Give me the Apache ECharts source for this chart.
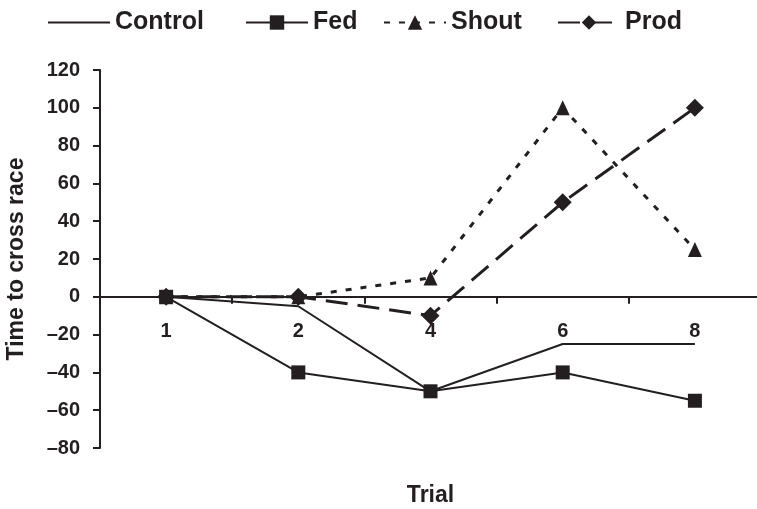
<!DOCTYPE html>
<html>
<head>
<meta charset="utf-8">
<script src="https://cdn.jsdelivr.net/npm/echarts@6/dist/echarts.min.js"></script>
<style>
  html, body { margin: 0; padding: 0; background: #fff; }
  #chart1 { width: 757px; height: 509px; }
</style>
</head>
<body>
<div id="chart1"></div>
<script>
// trials on the x axis
var trials = ['1', '2', '4', '6', '8'];
var control = [0, -5, -50, -25, -25];
var fed = [0, -40, -50, -40, -55];
var shout = [0, 0, 10, 100, 25];
var prod = [0, 0, -10, 50, 100];

var ink = '#231f20';
var font = 'Liberation Sans, Arial, sans-serif';

// one legend per item so each sits where the original puts it
function legendAt(item, x) {
    return {
        data: [item],
        left: x,
        top: 5,
        itemWidth: 62,
        itemHeight: 18,
        textStyle: { fontFamily: font, fontWeight: 'bold', fontSize: 25, color: ink }
    };
}

var myChart = echarts.init(document.getElementById('chart1'));
myChart.setOption({
    animation: false,
    backgroundColor: '#fff',
    legend: [
        legendAt({ name: 'Control', itemStyle: { opacity: 0 } }, 42),
        legendAt('Fed', 240),
        legendAt('Shout', 378),
        legendAt('Prod', 552)
    ],
    grid: { left: 100, right: -4, top: 70, bottom: 61, containLabel: false, outerBoundsMode: 'none' },
    xAxis: {
        type: 'category',
        data: trials,
        boundaryGap: true,
        name: 'Trial',
        nameLocation: 'middle',
        nameGap: 36,
        nameTextStyle: { fontFamily: font, fontWeight: 'bold', fontSize: 23, color: ink },
        axisLine: { onZero: true, lineStyle: { color: ink, width: 2 } },
        axisTick: { show: true, length: 7, lineStyle: { color: ink, width: 2 } },
        // labels stay at the grid bottom, pull them up under the zero line
        axisLabel: { margin: -127, fontFamily: font, fontWeight: 'bold', fontSize: 20, color: ink },
        splitLine: { show: false }
    },
    yAxis: {
        type: 'value',
        min: -80,
        max: 120,
        interval: 20,
        name: 'Time to cross race',
        nameLocation: 'middle',
        nameGap: 72,
        nameTextStyle: { fontFamily: font, fontWeight: 'bold', fontSize: 23, color: ink },
        axisLine: { show: true, lineStyle: { color: ink, width: 2 } },
        axisTick: { show: true, length: 7, lineStyle: { color: ink, width: 2 } },
        axisLabel: {
            margin: 20,
            fontFamily: font, fontWeight: 'bold', fontSize: 20, color: ink,
            formatter: function (v) { return String(v).replace('-', '\u2013'); }
        },
        splitLine: { show: false }
    },
    series: [
        {
            name: 'Control', type: 'line', data: control,
            symbol: 'none',
            lineStyle: { color: ink, width: 2, type: 'solid' },
            itemStyle: { color: ink }
        },
        {
            name: 'Fed', type: 'line', data: fed,
            symbol: 'rect', symbolSize: 14,
            lineStyle: { color: ink, width: 2, type: 'solid' },
            itemStyle: { color: ink }
        },
        {
            name: 'Shout', type: 'line', data: shout,
            symbol: 'triangle', symbolSize: [14, 15],
            lineStyle: { color: ink, width: 3, type: [6, 9] },
            itemStyle: { color: ink }
        },
        {
            name: 'Prod', type: 'line', data: prod,
            symbol: 'diamond', symbolSize: 18,
            lineStyle: { color: ink, width: 3, type: [22, 10] },
            itemStyle: { color: ink }
        }
    ]
});
</script>
</body>
</html>
